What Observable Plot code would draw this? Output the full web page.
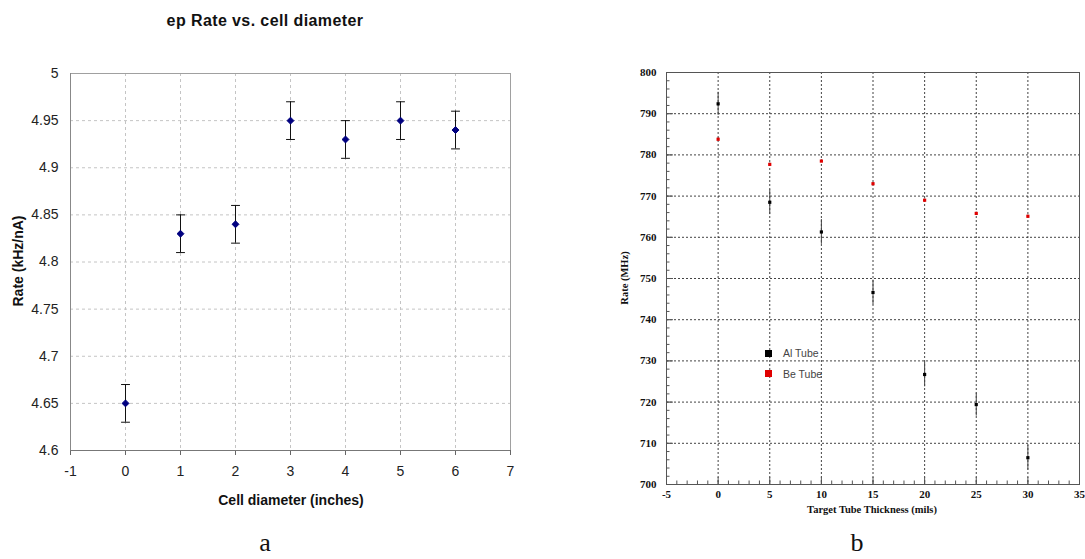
<!DOCTYPE html>
<html><head><meta charset="utf-8">
<script src="https://cdn.jsdelivr.net/npm/d3@7"></script>
<script src="https://cdn.jsdelivr.net/npm/@observablehq/plot@0.6"></script>
<style>
body{margin:0;background:#fff;}
#wrap{position:relative;width:1085px;height:559px;overflow:hidden;background:#fff;}
.abs{position:absolute;white-space:nowrap;line-height:1;}
.panel svg{overflow:visible;}
.sans{font-family:"Liberation Sans",Arial,sans-serif;}
.serif{font-family:"Liberation Serif","Times New Roman",serif;}
</style></head><body>
<div id="wrap">
  <div id="pa" class="abs panel" style="left:0;top:0;width:540px;height:520px;"></div>
  <div id="pb" class="abs panel" style="left:590px;top:40px;width:495px;height:470px;"></div>
  <div class="abs sans" style="left:265px;top:21px;transform:translate(-50%,-50%);font-size:16px;font-weight:bold;color:#111;letter-spacing:0.4px;">ep Rate vs. cell diameter</div>
  <div class="abs sans" style="left:291px;top:500px;transform:translate(-50%,-50%);font-size:14px;font-weight:bold;color:#111;">Cell diameter (inches)</div>
  <div class="abs sans" style="left:18px;top:261px;transform:translate(-50%,-50%) rotate(-90deg);font-size:14px;font-weight:bold;color:#111;">Rate (kHz/nA)</div>
  <div class="abs serif" style="left:872px;top:510px;transform:translate(-50%,-50%);font-size:10.5px;font-weight:bold;color:#111;">Target Tube Thickness (mils)</div>
  <div class="abs serif" style="left:625px;top:278px;transform:translate(-50%,-50%) rotate(-90deg);font-size:10.5px;font-weight:bold;color:#111;">Rate (MHz)</div>
  <div class="abs serif" style="left:265px;top:543px;transform:translate(-50%,-50%);font-size:26px;color:#111;">a</div>
  <div class="abs serif" style="left:857px;top:543px;transform:translate(-50%,-50%);font-size:26px;color:#111;">b</div>
  <div id="legend"></div>
</div>
<script>
// ---------- Panel a data ----------
const diam = [0, 1, 2, 3, 4, 5, 6];
const epRate = [4.65, 4.83, 4.84, 4.95, 4.93, 4.95, 4.94];
const epErr = [0.02, 0.02, 0.02, 0.02, 0.02, 0.02, 0.02];
const aXTicks = [-1, 0, 1, 2, 3, 4, 5, 6, 7];
const aYTicks = [4.6, 4.65, 4.7, 4.75, 4.8, 4.85, 4.9, 4.95, 5];

// ---------- Panel b data ----------
const thick = [0, 5, 10, 15, 20, 25, 30];
const alRate = [792.4, 768.5, 761.3, 746.6, 726.7, 719.4, 706.5];
const alErr = [2.8, 3.0, 3.0, 3.0, 3.0, 2.8, 3.0];
const beRate = [783.8, 777.7, 778.5, 773.0, 769.0, 765.8, 765.1];
const beErr = [0.3, 0.3, 0.3, 0.3, 0.3, 0.3, 0.3];
const bXTicks = [-5, 0, 5, 10, 15, 20, 25, 30, 35];
const bYTicks = [700, 710, 720, 730, 740, 750, 760, 770, 780, 790, 800];
const bXMinor = d3.range(-5, 35.5, 1);
const bYMinor = d3.range(700, 801, 2);
const seriesNames = ["Al Tube", "Be Tube"];
const seriesColors = ["#000000", "#e00000"];

const capSymbol = {draw(ctx, size) { const w = Math.sqrt(size); ctx.moveTo(-w, 0); ctx.lineTo(w, 0); }};

// ---------- Panel a ----------
const tA = diam.map((d, i) => ({x: d, y: epRate[i], lo: epRate[i] - epErr[i], hi: epRate[i] + epErr[i]}));
const plotA = Plot.plot({
  width: 540, height: 520,
  marginLeft: 70, marginRight: 30, marginTop: 73, marginBottom: 70,
  x: {domain: [-1, 7]},
  y: {domain: [4.6, 5]},
  style: {fontFamily: '"Liberation Sans", Arial, sans-serif', fontSize: "14px", color: "#222", background: "transparent"},
  marks: [
    Plot.gridX(aXTicks.slice(1, -1), {stroke: "#c4c4c4", strokeOpacity: 1, strokeDasharray: "3,3"}),
    Plot.gridY(aYTicks.slice(1, -1), {stroke: "#c4c4c4", strokeOpacity: 1, strokeDasharray: "3,3"}),
    Plot.frame({stroke: "#a0a0a0"}),
    Plot.axisX(aXTicks, {tickSize: 5, tickPadding: 11, label: null, stroke: "#666", tickFormat: d => String(d)}),
    Plot.axisY(aYTicks, {tickSize: 0, tickPadding: 12, label: null, tickFormat: d => String(d)}),
    Plot.ruleY([4.6], {stroke: "#777"}),
    Plot.ruleX([-1], {stroke: "#888"}),
    Plot.ruleX(tA, {x: "x", y1: "lo", y2: "hi", stroke: "#111"}),
    Plot.dot(tA, {x: "x", y: "hi", symbol: capSymbol, r: 2.5, stroke: "#111", strokeWidth: 1}),
    Plot.dot(tA, {x: "x", y: "lo", symbol: capSymbol, r: 2.5, stroke: "#111", strokeWidth: 1}),
    Plot.dot(tA, {x: "x", y: "y", symbol: "diamond2", r: 3.1, fill: "#000080", stroke: "#000080", strokeWidth: 1})
  ]
});
document.getElementById("pa").appendChild(plotA);

// ---------- Panel b ----------
const tB = [];
thick.forEach((t, i) => tB.push({x: t, y: alRate[i], lo: alRate[i] - alErr[i], hi: alRate[i] + alErr[i], s: seriesNames[0]}));
thick.forEach((t, i) => tB.push({x: t, y: beRate[i], lo: beRate[i] - beErr[i], hi: beRate[i] + beErr[i], s: seriesNames[1]}));

const plotB = Plot.plot({
  width: 495, height: 470,
  marginLeft: 76, marginRight: 6, marginTop: 32, marginBottom: 26,
  x: {domain: [-5, 35]},
  y: {domain: [700, 800]},
  color: {domain: seriesNames, range: seriesColors},
  style: {fontFamily: '"Liberation Serif", "Times New Roman", serif', fontSize: "11px", fontWeight: "bold", color: "#111", background: "transparent"},
  marks: [
    Plot.gridX(bXTicks.slice(1, -1), {stroke: "#222", strokeOpacity: 0.85, strokeDasharray: "2,2"}),
    Plot.gridY(bYTicks.slice(1, -1), {stroke: "#222", strokeOpacity: 0.85, strokeDasharray: "2,2"}),
    Plot.frame({stroke: "#555"}),
    Plot.axisX(bXMinor, {tickSize: -3.5, text: null, label: null, stroke: "#555"}),
    Plot.axisY(bYMinor, {tickSize: -3.5, text: null, label: null, stroke: "#555"}),
    Plot.axisX(bXTicks, {tickSize: -7, tickPadding: 13, label: null, stroke: "#555", tickFormat: d => String(d)}),
    Plot.axisY(bYTicks, {tickSize: -7, tickPadding: 17, label: null, stroke: "#555", tickFormat: d => String(d)}),
    Plot.ruleX(tB, {x: "x", y1: "lo", y2: "hi", stroke: "#444", strokeWidth: 1}),
    Plot.dot(tB, {x: "x", y: "y", symbol: "square", r: 1.8, fill: "s", stroke: null})
  ]
});
document.getElementById("pb").appendChild(plotB);

// ---------- Legend for panel b ----------
const legend = document.getElementById("legend");
seriesNames.forEach((name, i) => {
  const top = 353 + i * 20.5;
  const sw = document.createElement("div");
  sw.className = "abs";
  sw.style.cssText = `left:765px;top:${top - 3.5}px;width:7px;height:7px;background:${seriesColors[i]};`;
  legend.appendChild(sw);
  const tx = document.createElement("div");
  tx.className = "abs sans";
  tx.style.cssText = `left:783px;top:${top}px;transform:translateY(-50%);font-size:10.5px;color:#444;`;
  tx.textContent = name;
  legend.appendChild(tx);
});
</script>
</body></html>
